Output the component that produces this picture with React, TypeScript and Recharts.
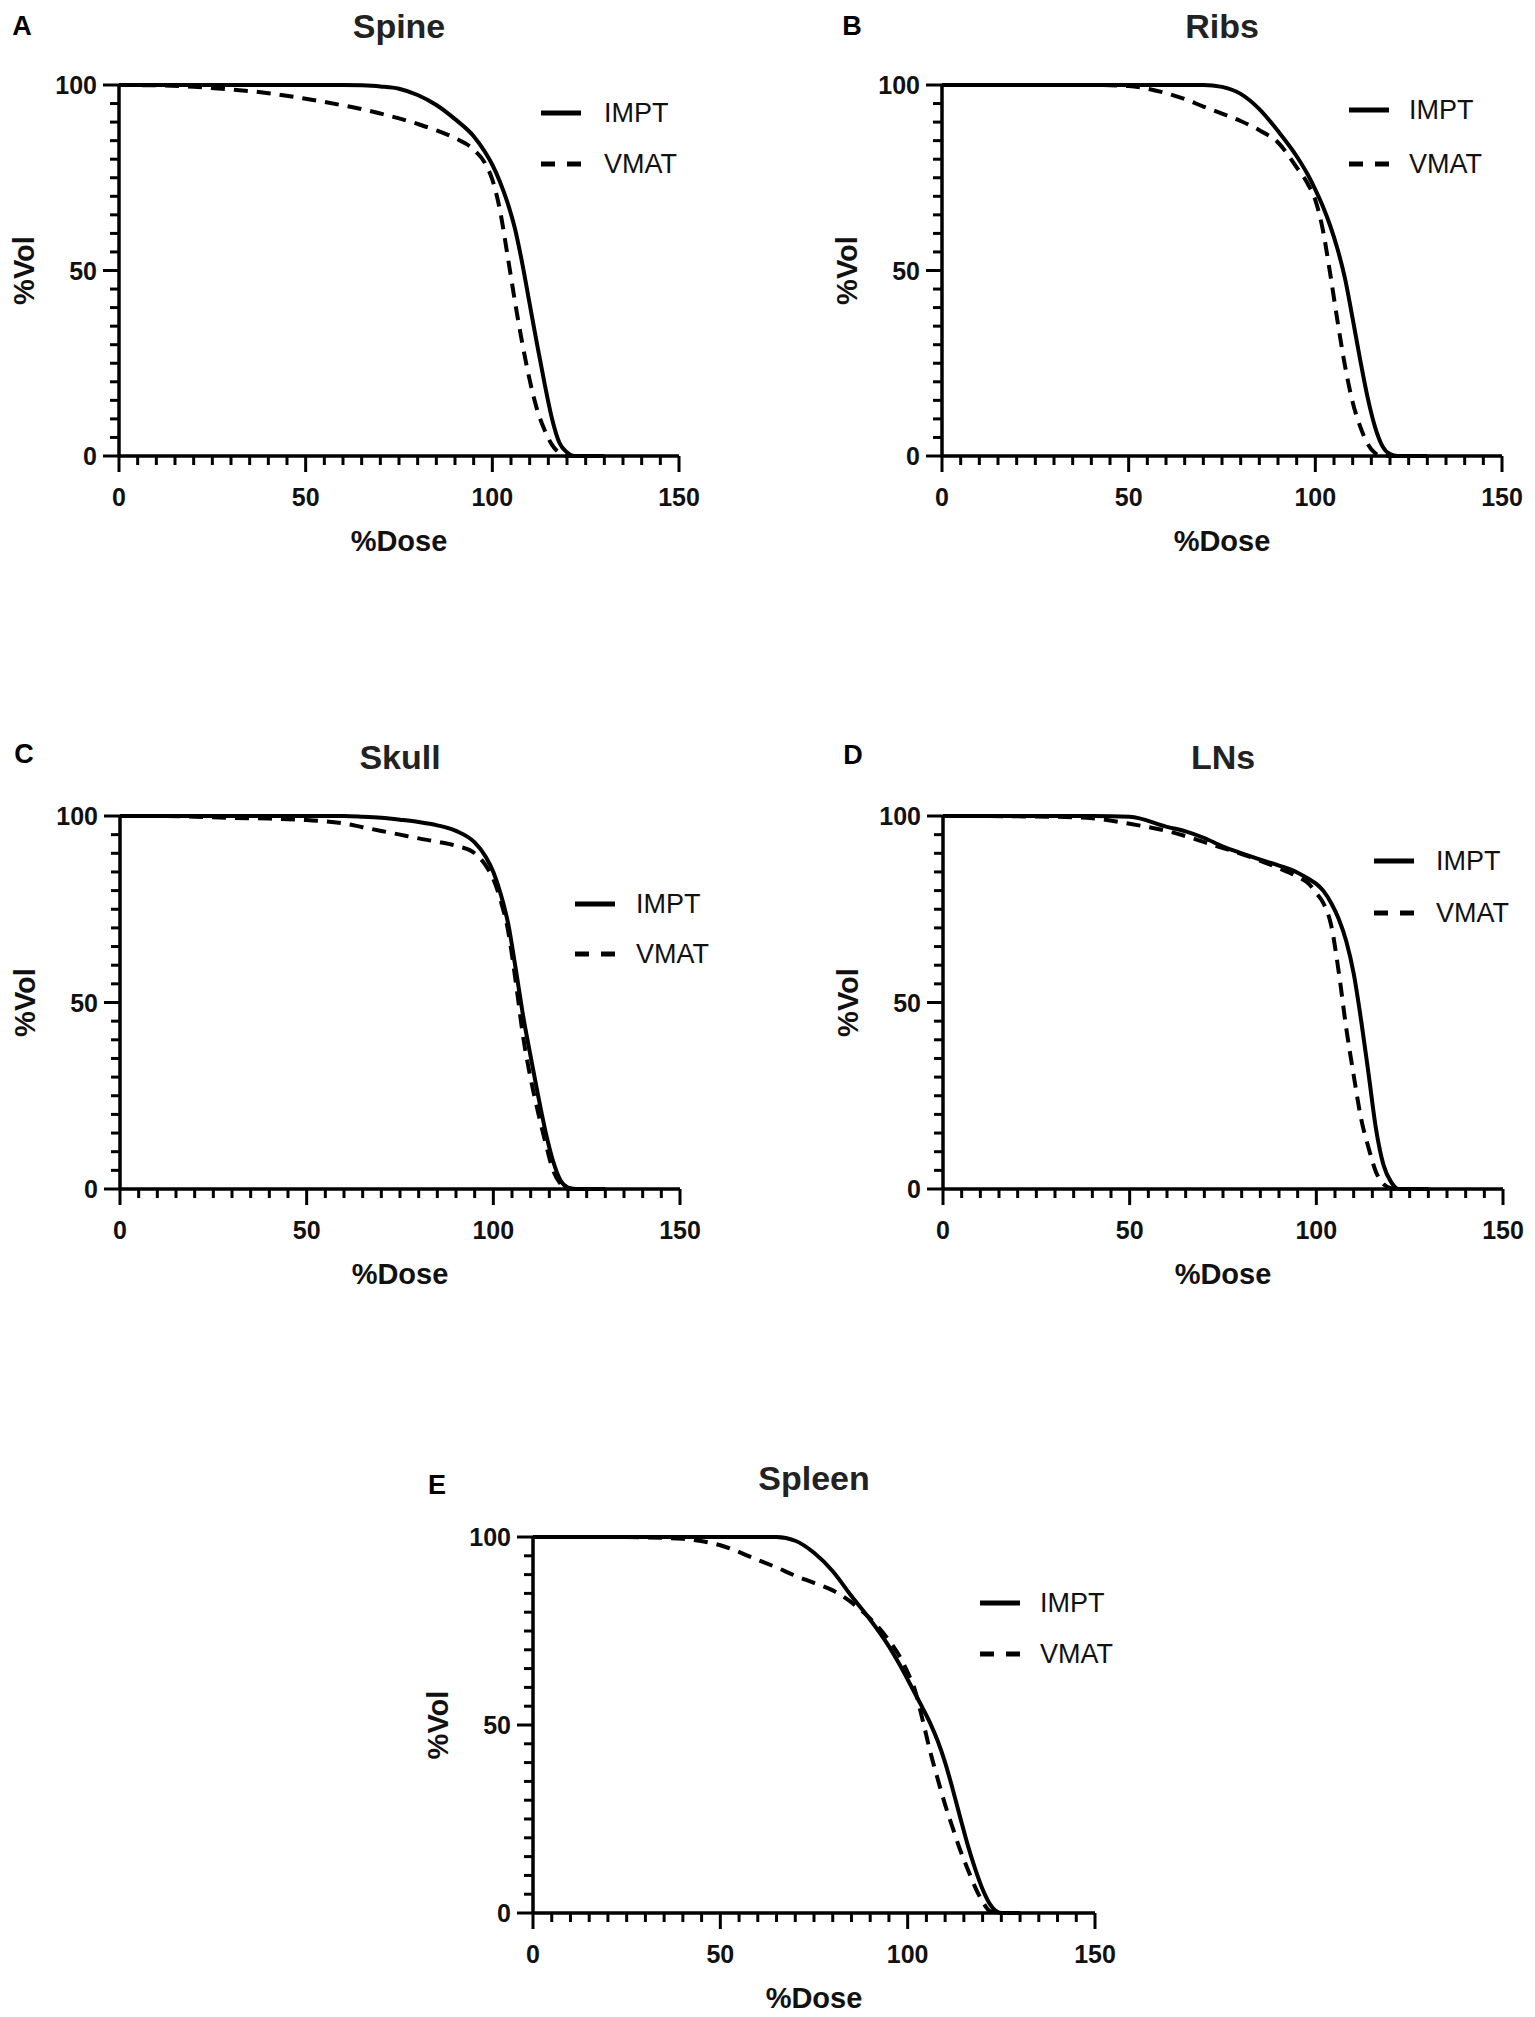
import { LineChart, Line, XAxis, YAxis } from "recharts";

// ---------------------------------------------------------------------------
// Data
// ---------------------------------------------------------------------------
const doseGrid = [0, 10, 20, 30, 40, 50, 60, 65, 70, 75, 80, 85, 90, 95, 98, 100, 102, 104, 106, 108, 110, 112, 114, 116, 118, 120, 122, 125, 130];

const spineImpt = [100, 100, 100, 100, 100, 100, 100, 99.9, 99.6, 99, 97.3, 94.6, 90.8, 86.2, 82, 78.5, 74, 68.5, 61.5, 52, 41, 30, 19.5, 10, 3.5, 1, 0, 0, 0];
const spineVmat = [100, 99.9, 99.5, 98.8, 97.8, 96.3, 94.5, 93.5, 92.3, 91, 89.5, 87.8, 85.7, 82.6, 79, 74.5, 66.5, 54.5, 42, 30.5, 20.5, 12.5, 7, 3, 0.8, 0, 0, 0, 0];

const ribsImpt = [100, 100, 100, 100, 100, 100, 100, 100, 100, 99.5, 97.6, 93.5, 87.6, 80.8, 75.8, 71.8, 67.3, 62, 55.6, 47.6, 37, 26, 15.8, 7.8, 2.6, 0.5, 0, 0, 0];
const ribsVmat = [100, 100, 100, 100, 100, 99.7, 97.8, 96.2, 94.2, 92.3, 90.3, 87.8, 84.5, 77.8, 73.3, 69, 61, 49, 36, 24, 14.5, 8, 3.3, 0.8, 0, 0, 0, 0, 0];

const skullImpt = [100, 100, 100, 100, 100, 100, 100, 99.8, 99.5, 99, 98.4, 97.5, 96, 92.9, 89, 85, 79, 71, 59, 46.3, 35.5, 25, 15.3, 7.5, 2.3, 0.4, 0, 0, 0];
const skullVmat = [100, 100, 99.8, 99.5, 99.3, 98.9, 98, 97, 96, 95, 94, 93.1, 92, 90, 86.7, 83.1, 77.2, 69, 55.6, 40.7, 29.6, 20.5, 12.3, 5, 1.4, 0.2, 0, 0, 0];

const lnsImpt = [100, 100, 100, 100, 100, 99.8, 97.1, 95.9, 94.1, 91.8, 90, 88.3, 86.7, 84.8, 83.1, 81.8, 79.8, 76.6, 72.4, 66.5, 57.8, 45.2, 30.8, 16, 6.4, 1.9, 0, 0, 0];
const lnsVmat = [100, 100, 99.9, 99.8, 99.4, 97.9, 96, 94.6, 93, 91.4, 89.8, 88, 86, 83.7, 81.8, 79.3, 76.4, 70.6, 58.2, 43.2, 30.5, 18.8, 11, 4.5, 1.3, 0.2, 0, 0, 0];

const spleenImpt = [100, 100, 100, 100, 100, 100, 100, 100, 99, 95.8, 90.9, 84.3, 78, 70.9, 65.8, 62.1, 58.3, 54.5, 50.5, 45.8, 40, 33, 25.5, 18.2, 11.8, 6.3, 2.3, 0, 0];
const spleenVmat = [100, 100, 100, 99.9, 99.5, 97.8, 93.9, 91.9, 89.7, 87.8, 85.8, 82.6, 78.3, 72.5, 68, 64, 59.1, 51.3, 43, 35.7, 28.8, 22.7, 16.8, 11.7, 6.9, 3, 0.5, 0, 0];

const xTicks = [0, 5, 10, 15, 20, 25, 30, 35, 40, 45, 50, 55, 60, 65, 70, 75, 80, 85, 90, 95, 100, 105, 110, 115, 120, 125, 130, 135, 140, 145, 150];
const yTicks = [0, 5, 10, 15, 20, 25, 30, 35, 40, 45, 50, 55, 60, 65, 70, 75, 80, 85, 90, 95, 100];
const xTickLabels = [0, 50, 100, 150];
const yTickLabels = [0, 50, 100];

const seriesNames = ["IMPT", "VMAT"];
const panelLetters = ["A", "B", "C", "D", "E"];
const panelTitles = ["Spine", "Ribs", "Skull", "LNs", "Spleen"];
const panelSeries = [
  [spineImpt, spineVmat],
  [ribsImpt, ribsVmat],
  [skullImpt, skullVmat],
  [lnsImpt, lnsVmat],
  [spleenImpt, spleenVmat],
];

// ---------------------------------------------------------------------------
// Layout (page pixels)
// ---------------------------------------------------------------------------
const FONT = '"Liberation Sans", Arial, Helvetica, sans-serif';
const DASH = "14 9";
const Y_AXIS_W = 120;
const X_AXIS_H = 110;
const M_TOP = 20;
const M_RIGHT = 30;

const layouts = [
  { left: 119, top: 85, w: 560, h: 371, lx: 22, ly: 26, legX: 541, legY: 113, legGap: 51, legText: 604 },
  { left: 942, top: 85, w: 560, h: 371, lx: 852, ly: 26, legX: 1349, legY: 110, legGap: 54, legText: 1409 },
  { left: 120, top: 816, w: 560, h: 373, lx: 24, ly: 754, legX: 575, legY: 904, legGap: 50, legText: 636 },
  { left: 943, top: 816, w: 560, h: 373, lx: 853, ly: 755, legX: 1374, legY: 861, legGap: 52, legText: 1436 },
  { left: 533, top: 1537, w: 562, h: 376, lx: 437, ly: 1485, legX: 980, legY: 1603, legGap: 51, legText: 1040 },
];

// ---------------------------------------------------------------------------
// Ticks: minor every 5, labelled majors
// ---------------------------------------------------------------------------
function XTick(props: any) {
  const { x, y, payload } = props;
  const major = xTickLabels.includes(payload.value);
  return (
    <g>
      <line x1={x} x2={x} y1={y} y2={y + (major ? 16 : 9)} stroke="#000" strokeWidth={3} />
      {major && (
        <text x={x} y={y + 41} textAnchor="middle" dominantBaseline="central" fontSize={25} fontWeight="bold" fontFamily={FONT} fill="#111">
          {payload.value}
        </text>
      )}
    </g>
  );
}

function YTick(props: any) {
  const { x, y, payload } = props;
  const major = yTickLabels.includes(payload.value);
  return (
    <g>
      <line x1={x - (major ? 16 : 9)} x2={x} y1={y} y2={y} stroke="#000" strokeWidth={3} />
      {major && (
        <text x={x - 22} y={y} textAnchor="end" dominantBaseline="central" fontSize={25} fontWeight="bold" fontFamily={FONT} fill="#111">
          {payload.value}
        </text>
      )}
    </g>
  );
}

// ---------------------------------------------------------------------------
// Legend (line sample + name)
// ---------------------------------------------------------------------------
function PanelLegend({ lay }: { lay: (typeof layouts)[number] }) {
  const top = lay.legY - 25;
  return (
    <svg
      width={220}
      height={lay.legGap + 50}
      style={{ position: "absolute", left: lay.legX, top }}
    >
      {seriesNames.map((name, i) => {
        const cy = 25 + i * lay.legGap;
        return (
          <g key={name}>
            <line
              x1={0}
              x2={40}
              y1={cy}
              y2={cy}
              stroke="#000"
              strokeWidth={5}
              strokeDasharray={i === 1 ? "14 12" : undefined}
            />
            <text x={lay.legText - lay.legX} y={cy} dominantBaseline="central" fontSize={27} fontFamily={FONT} fill="#111">
              {name}
            </text>
          </g>
        );
      })}
    </svg>
  );
}

// ---------------------------------------------------------------------------
// One DVH panel
// ---------------------------------------------------------------------------
function Panel({ idx }: { idx: number }) {
  const lay = layouts[idx];
  const [impt, vmat] = panelSeries[idx];
  const rows = doseGrid.map((dose, i) => ({ dose, impt: impt[i], vmat: vmat[i] }));
  const chartW = Y_AXIS_W + lay.w + M_RIGHT;
  const chartH = M_TOP + lay.h + X_AXIS_H;

  return (
    <>
      <div
        style={{
          position: "absolute",
          left: lay.lx,
          top: lay.ly,
          transform: "translate(-50%, -50%)",
          fontFamily: FONT,
          fontWeight: "bold",
          fontSize: 27,
          lineHeight: 1,
          color: "#000",
        }}
      >
        {panelLetters[idx]}
      </div>
      <div
        style={{
          position: "absolute",
          left: lay.left + lay.w / 2,
          top: lay.top - 59,
          transform: "translate(-50%, -50%)",
          fontFamily: FONT,
          fontWeight: "bold",
          fontSize: 34,
          lineHeight: 1,
          color: "#222",
          whiteSpace: "nowrap",
        }}
      >
        {panelTitles[idx]}
      </div>
      <div style={{ position: "absolute", left: lay.left - Y_AXIS_W, top: lay.top - M_TOP }}>
        <LineChart
          width={chartW}
          height={chartH}
          data={rows}
          margin={{ top: M_TOP, right: M_RIGHT, bottom: 0, left: 0 }}
          style={{ fontFamily: FONT }}
        >
          <XAxis
            type="number"
            dataKey="dose"
            domain={[0, 150]}
            ticks={xTicks}
            interval={0}
            tick={(p: any) => <XTick {...p} />}
            tickLine={false}
            tickSize={0}
            tickMargin={0}
            height={X_AXIS_H}
            axisLine={{ stroke: "#000", strokeWidth: 3.5 }}
            label={{
              value: "%Dose",
              position: "insideBottom",
              offset: 15,
              fontSize: 29,
              fontWeight: "bold",
              fill: "#111",
            }}
          />
          <YAxis
            type="number"
            domain={[0, 100]}
            ticks={yTicks}
            interval={0}
            tick={(p: any) => <YTick {...p} />}
            tickLine={false}
            tickSize={0}
            tickMargin={0}
            width={Y_AXIS_W}
            axisLine={{ stroke: "#000", strokeWidth: 3.5 }}
            label={{
              value: "%Vol",
              angle: -90,
              position: "insideLeft",
              offset: 25,
              fontSize: 29,
              fontWeight: "bold",
              fill: "#111",
              style: { textAnchor: "middle" },
            }}
          />
          <Line
            dataKey="impt"
            name={seriesNames[0]}
            type="monotone"
            stroke="#000"
            strokeWidth={4}
            dot={false}
            isAnimationActive={false}
          />
          <Line
            dataKey="vmat"
            name={seriesNames[1]}
            type="monotone"
            stroke="#000"
            strokeWidth={4}
            strokeDasharray={DASH}
            dot={false}
            isAnimationActive={false}
          />
        </LineChart>
      </div>
      <PanelLegend lay={lay} />
    </>
  );
}

export default function App() {
  return (
    <div
      style={{
        position: "absolute",
        left: 0,
        top: 0,
        width: 1535,
        height: 2017,
        background: "#fff",
        overflow: "hidden",
      }}
    >
      {panelTitles.map((t, i) => (
        <Panel key={t} idx={i} />
      ))}
    </div>
  );
}
